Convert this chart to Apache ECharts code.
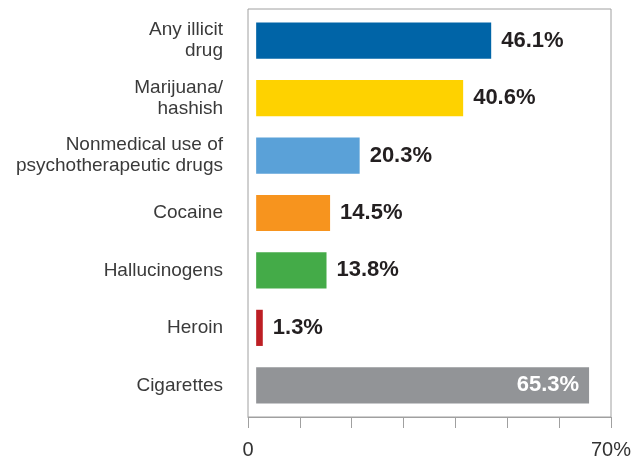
<!DOCTYPE html>
<html><head><meta charset="utf-8">
<script src="https://cdn.jsdelivr.net/npm/echarts@6/dist/echarts.min.js"></script>
<style>html,body{margin:0;padding:0;background:#fff}#c{width:640px;height:460px}</style>
</head><body><div id="c"></div>
<script>
const categories = ['Any illicit\ndrug','Marijuana/\nhashish','Nonmedical use of\npsychotherapeutic drugs','Cocaine','Hallucinogens','Heroin','Cigarettes'];
const values = [46.1, 40.6, 20.3, 14.5, 13.8, 1.3, 65.3];
const colors = ['#0064a7','#fed200','#5aa1d8','#f7941e','#44ab48','#bd1f24','#929497'];
const axisTicks = [0, 70];

const FONT = 'Liberation Sans, Arial, Helvetica, sans-serif';
const chart = echarts.init(document.getElementById('c'));
chart.setOption({
  animation: false,
  textStyle: {fontFamily: FONT},
  grid: [
    {left: 248, right: 29, top: 9, bottom: 41, show: true, borderColor: '#a0a0a0', borderWidth: 1, backgroundColor: 'transparent'},
    {left: 248, right: 29, top: 12, bottom: 46}
  ],
  xAxis: [
    {gridIndex: 0, type: 'value', min: 0, max: 70, interval: 10,
     axisLine: {show: true, lineStyle: {color: '#a0a0a0'}},
     axisTick: {show: true, length: 11, lineStyle: {color: '#a0a0a0'}},
     splitLine: {show: false},
     axisLabel: {margin: 23, fontSize: 20, color: '#333', fontFamily: FONT,
       showMinLabel: true, showMaxLabel: true,
       formatter: v => v === axisTicks[0] ? String(v) : (v === axisTicks[1] ? v + '%' : '')}},
    {gridIndex: 1, type: 'value', min: -1.6, max: 69.6, show: false}
  ],
  yAxis: [
    {gridIndex: 0, type: 'value', show: false},
    {gridIndex: 1, type: 'category', inverse: true, data: categories,
     axisLine: {show: false}, axisTick: {show: false},
     axisLabel: {margin: 25, fontSize: 19, lineHeight: 21, color: '#3a3a3a', fontFamily: FONT, align: 'right'}}
  ],
  series: [{
    type: 'bar', xAxisIndex: 1, yAxisIndex: 1, barWidth: '63%',
    data: values.map((v, i) => {
      const last = i === values.length - 1;
      return {
        value: v,
        itemStyle: {color: colors[i]},
        label: last ? {position: 'insideRight', color: '#fff', distance: 10} : {}
      };
    }),
    label: {show: true, position: 'right', distance: 10, formatter: '{c}%',
      fontSize: 22, fontWeight: 'bold', color: '#231f20', fontFamily: FONT}
  }]
});
</script></body></html>
